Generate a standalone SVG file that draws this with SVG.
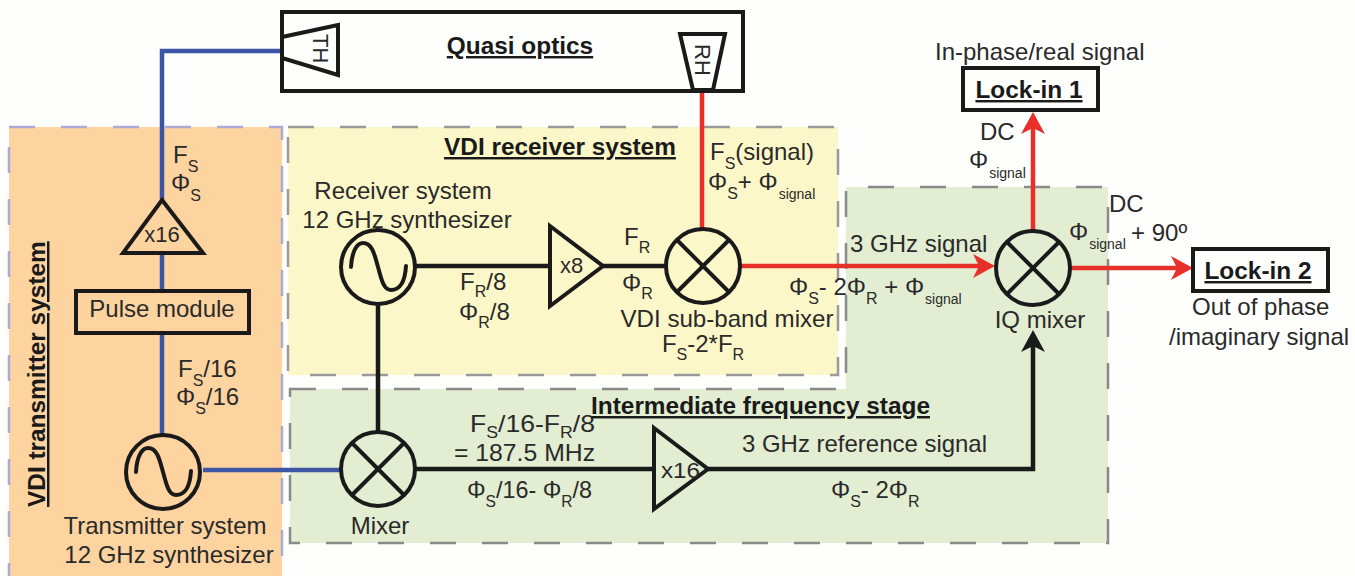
<svg xmlns="http://www.w3.org/2000/svg" xmlns:xlink="http://www.w3.org/1999/xlink" width="1355" height="576" viewBox="0 0 1355 576">
<style>
text{font-family:"Liberation Sans",Arial,sans-serif;font-size:24px;fill:#2a2a2a}
.b{font-weight:bold;font-size:24.4px;text-decoration:underline;fill:#1a1a1a}
.c{font-size:22px}
.m{text-anchor:middle}
.s{font-size:16px}
.g{font-size:14px}
.sh{fill:none;stroke:#1a1a1a;stroke-width:4;stroke-linejoin:miter}
.w{fill:none;stroke-width:4.5;stroke-linejoin:miter}
.bl{stroke:#3d55a5}.rd{stroke:#e8302a}.bk{stroke:#1a1a1a}
.dz{stroke-width:2.5;stroke-dasharray:26 26}
</style>
<defs>
<marker id="ar" markerUnits="userSpaceOnUse" markerWidth="24" markerHeight="26" viewBox="0 0 24 26" refX="14" refY="13" orient="auto"><path d="M22,13 L0,1 L6,13 L0,25Z" fill="#e8302a"/></marker>
<marker id="ak" markerUnits="userSpaceOnUse" markerWidth="24" markerHeight="26" viewBox="0 0 24 26" refX="14" refY="13" orient="auto"><path d="M22,13 L0,1 L6,13 L0,25Z" fill="#1a1a1a"/></marker>
<g id="mx"><circle r="37" class="sh"/><path d="M-26,-26L26,26M26,-26L-26,26" class="sh"/></g>
<g id="os"><circle r="37" class="sh"/><path d="M-27,0C-26,-18 -20,-24 -15,-24C-5,-24 -3,-10 0,0C3,10 5,23 13,23C22,23 27,15 28,-1" class="sh" stroke-linecap="round"/></g>
</defs>
<rect width="1355" height="576" fill="#fefefd"/>
<g id="regions">
<rect id="transmitter-region" x="9" y="127" width="273" height="452" fill="#fdd3a0" stroke="#aaaad2" class="dz"/>
<rect id="receiver-region" x="288" y="127" width="550" height="248" fill="#fcf7c8" stroke="#9a9a9a" class="dz"/>
<path id="if-region" d="M290,389H846V187H1108V543H290Z" fill="#e2edd2" stroke="#8a8a8a" class="dz"/>
</g>
<g id="connectors">
<path class="w bl" d="M282,51H162V200"/>
<path class="w bl" d="M162,253V291"/>
<path class="w bl" d="M162,333V436"/>
<path class="w bl" d="M203,470H343"/>
<path class="w bk" d="M378,304V432"/>
<path class="w bk" d="M415,266H550"/>
<path class="w bk" d="M603,266H666"/>
<path class="w rd" d="M702,91V229"/>
<path class="w rd" d="M741,266H987" marker-end="url(#ar)"/>
<path class="w rd" d="M1033,232V120" marker-end="url(#ar)"/>
<path class="w rd" d="M1070,268H1185" marker-end="url(#ar)"/>
<path class="w bk" d="M415,469H654"/>
<path class="w bk" d="M708,469H1033V338" marker-end="url(#ak)"/>
</g>
<g id="quasi-optics"><rect x="282" y="12" width="461" height="79" class="sh"/><text x="520" y="54" class="b m">Quasi optics</text></g>
<g id="TH"><path d="M282,37L338,25V75L282,58Z" class="sh"/><text transform="translate(313,34) rotate(90)" class="c">TH</text></g>
<g id="RH"><path d="M680,34H725L713,90H693Z" class="sh"/><text transform="translate(695,44) rotate(90)" class="c">RH</text></g>
<g id="transmitter-labels">
<text transform="translate(45,507) rotate(-90)" class="b">VDI transmitter system</text>
<text x="173" y="163">F<tspan class="s" dy="9">S</tspan></text>
<text x="171" y="191">Φ<tspan class="s" dy="10">S</tspan></text>
<text x="178" y="377">F<tspan class="s" dy="9">S</tspan><tspan dy="-9">/16</tspan></text>
<text x="176" y="405">Φ<tspan class="s" dy="9">S</tspan><tspan dy="-9">/16</tspan></text>
</g>
<g id="x16-tx"><path d="M162,200L203,253H123Z" class="sh"/><text x="162" y="242" class="m c">x16</text></g>
<g id="pulse-module"><rect x="76" y="291" width="173" height="42" class="sh"/><text x="162" y="317" class="m">Pulse module</text></g>
<g id="tx-synth"><use xlink:href="#os" href="#os" transform="translate(163,472)"/><text x="165" y="534" class="m">Transmitter system</text><text x="169" y="563" class="m">12 GHz synthesizer</text></g>
<g id="rx-synth"><use xlink:href="#os" href="#os" transform="translate(378,267)"/><text x="403" y="199" class="m">Receiver system</text><text x="407" y="228" class="m">12 GHz synthesizer</text></g>
<g id="if-mixer"><use xlink:href="#mx" href="#mx" transform="translate(378,469)"/><text x="380" y="534" class="m">Mixer</text></g>
<g id="x8"><path d="M550,226L603,266L550,306Z" class="sh"/><text x="560" y="273" class="c">x8</text></g>
<g id="vdi-mixer"><use xlink:href="#mx" href="#mx" transform="translate(703,266)"/><text x="727" y="327" class="m" textLength="213" lengthAdjust="spacingAndGlyphs">VDI sub-band mixer</text><text x="703" y="352" class="m">F<tspan class="s" dy="8">S</tspan><tspan dy="-8">-2*F</tspan><tspan class="s" dy="8">R</tspan></text></g>
<g id="iq-mixer"><use xlink:href="#mx" href="#mx" transform="translate(1033,268)"/><text x="1040" y="328" class="m">IQ mixer</text></g>
<g id="x16-if"><path d="M654,428L708,469L654,509Z" class="sh"/><text x="661" y="478" class="c" textLength="39" lengthAdjust="spacingAndGlyphs">x16</text></g>
<g id="lock-in-1"><rect x="963" y="68" width="135" height="42" class="sh"/><text x="1029" y="98" class="b m">Lock-in 1</text></g>
<g id="lock-in-2"><rect x="1193" y="249" width="135" height="42" class="sh"/><text x="1258" y="279" class="b m">Lock-in 2</text></g>
<g id="labels">
<text x="444" y="155" class="b">VDI receiver system</text>
<text x="460" y="290">F<tspan class="s" dy="7">R</tspan><tspan dy="-7">/8</tspan></text>
<text x="459" y="320">Φ<tspan class="s" dy="8">R</tspan><tspan dy="-8">/8</tspan></text>
<text x="624" y="245">F<tspan class="s" dy="8">R</tspan></text>
<text x="622" y="291">Φ<tspan class="s" dy="8">R</tspan></text>
<text x="710" y="160">F<tspan class="s" dy="9">S</tspan><tspan dy="-9">(signal)</tspan></text>
<text x="708" y="190">Φ<tspan class="s" dy="9">S</tspan><tspan dy="-9">+ Φ</tspan><tspan class="g" dy="9" dx="1">signal</tspan></text>
<text x="850" y="252">3 GHz signal</text>
<text x="789" y="295">Φ<tspan class="s" dy="9">S</tspan><tspan dy="-9">- 2Φ</tspan><tspan class="s" dy="9">R</tspan><tspan dy="-9"> + Φ</tspan><tspan class="g" dy="9" dx="1">signal</tspan></text>
<text x="935" y="60">In-phase/real signal</text>
<text x="980" y="140">DC</text>
<text x="969" y="168">Φ<tspan class="g" dy="10" dx="1">signal</tspan></text>
<text x="1109" y="212">DC</text>
<text x="1069" y="240">Φ<tspan class="g" dy="9" dx="1">signal</tspan></text>
<text x="1131" y="241">+ 90º</text>
<text x="1192" y="315">Out of phase</text>
<text x="1169" y="345">/imaginary signal</text>
<text x="591" y="414" class="b" textLength="339" lengthAdjust="spacingAndGlyphs">Intermediate frequency stage</text>
<text x="470" y="432" textLength="125" lengthAdjust="spacingAndGlyphs">F<tspan class="s" dy="6">S</tspan><tspan dy="-6">/16-F</tspan><tspan class="s" dy="6">R</tspan><tspan dy="-6">/8</tspan></text>
<text x="454" y="461" textLength="141" lengthAdjust="spacingAndGlyphs">= 187.5 MHz</text>
<text x="467" y="498" textLength="125" lengthAdjust="spacingAndGlyphs">Φ<tspan class="s" dy="9">S</tspan><tspan dy="-9">/16- Φ</tspan><tspan class="s" dy="9">R</tspan><tspan dy="-9">/8</tspan></text>
<text x="742" y="452" textLength="245" lengthAdjust="spacingAndGlyphs">3 GHz reference signal</text>
<text x="831" y="498">Φ<tspan class="s" dy="9">S</tspan><tspan dy="-9">- 2Φ</tspan><tspan class="s" dy="9">R</tspan></text>
</g>
</svg>
